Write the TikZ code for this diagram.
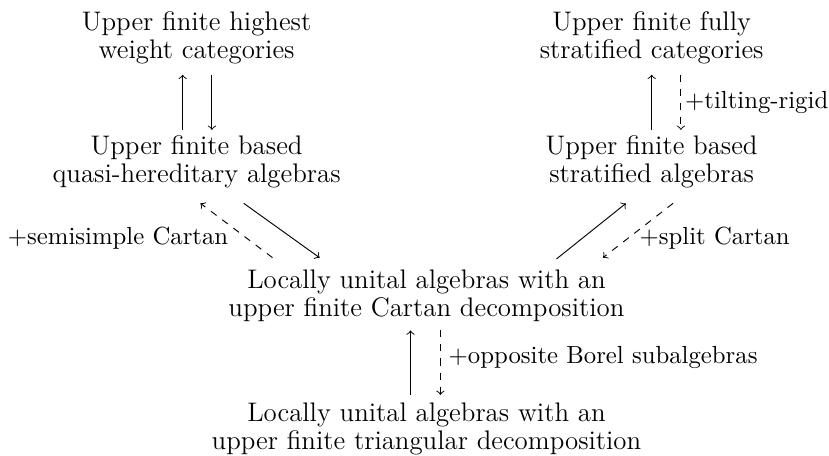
\documentclass[tikz,border=0pt]{standalone}
\usepackage{amssymb}
\usepackage{amsmath}
\usetikzlibrary{arrows}

\begin{document}
\begin{tikzpicture}[->,shorten >=1pt,shorten <=1pt,auto, scale = 1, transform shape,
        font=\fontsize{11.5}{12}\selectfont,
        lbl/.style={font=\fontsize{10.6}{12}\selectfont}]

        \useasboundingbox (0,0) rectangle (12.48,-6.85);

        \node[align=center] (HW)  at (2.96,-0.57)  {Upper finite highest\\weight categories};
        \node[align=center] (FS)  at (9.81,-0.57)  {Upper finite fully\\stratified categories};
        \node[align=center] (QH)  at (2.96,-2.43)  {Upper finite based\\quasi-hereditary algebras};
        \node[align=center] (SA)  at (9.81,-2.43)  {Upper finite based\\stratified algebras};
        \node[align=center] (CD)  at (6.42,-4.45)  {Locally unital algebras with an\\upper finite Cartan decomposition};
        \node[align=center] (TD)  at (6.42,-6.45)  {Locally unital algebras with an\\upper finite triangular decomposition};

        \draw ([shift={(-0.21,0.44)}]QH.center) -- ([shift={(-0.21,-0.52)}]HW.center);
        \draw ([shift={(0.23,-0.52)}]HW.center) -- ([shift={(0.23,0.44)}]QH.center);

        \draw ([shift={(0,0.44)}]SA.center) -- ([shift={(0,-0.52)}]FS.center);
        \draw[dashed] ([shift={(0.44,-0.52)}]FS.center) -- node [right, lbl, xshift=-0.06cm] {+tilting-rigid} ([shift={(0.44,0.44)}]SA.center);

        \draw[dashed] ([shift={(-2.29,0.55)}]CD.center) -- node [left, lbl, yshift=-0.11cm] {+semisimple Cartan} ([shift={(0.03,-0.61)}]QH.center);
        \draw ([shift={(0.68,-0.61)}]QH.center) -- ([shift={(-1.58,0.55)}]CD.center);

        \draw ([shift={(1.93,0.53)}]CD.center) -- ([shift={(-0.36,-0.61)}]SA.center);
        \draw[dashed] ([shift={(0.35,-0.61)}]SA.center) -- node [right, lbl, xshift=-0.1cm, yshift=-0.11cm] {+split Cartan} ([shift={(2.63,0.55)}]CD.center);

        \draw ([shift={(-0.24,0.47)}]TD.center) -- ([shift={(-0.24,-0.49)}]CD.center);
        \draw[dashed] ([shift={(0.21,-0.49)}]CD.center) -- node [right, lbl, yshift=0.08cm] {+opposite Borel subalgebras} ([shift={(0.21,0.47)}]TD.center);

\end{tikzpicture}
\end{document}
